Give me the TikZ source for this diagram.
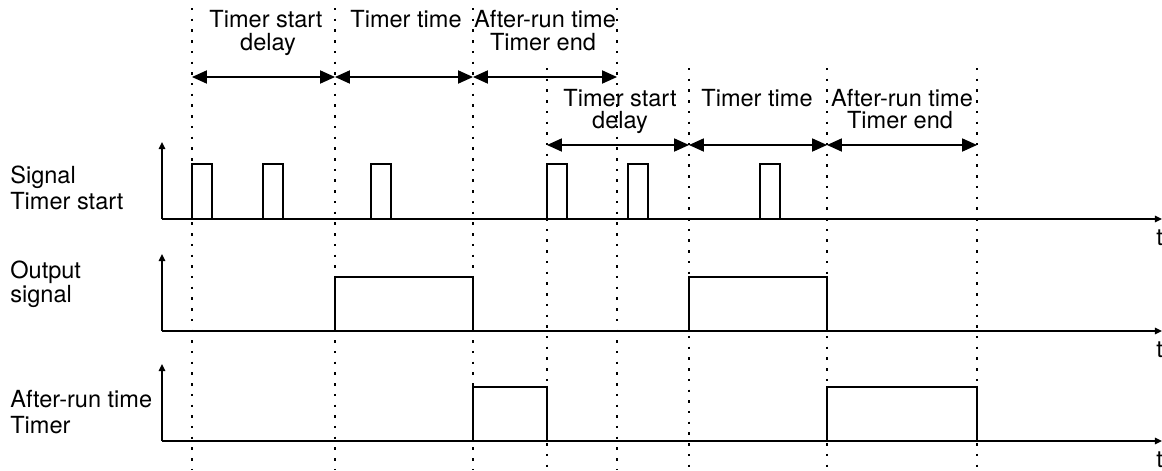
\documentclass[tikz,border=0pt]{standalone}
\usepackage{fontspec}
\setmainfont{TeX Gyre Heros}
\usetikzlibrary{arrows.meta}

\begin{document}
\begin{tikzpicture}[x=0.02cm, y=-0.02cm,
    sig/.style={line width=1.2pt, line join=miter},
    axis/.style={line width=1.4pt, -{Triangle[length=4pt,width=3.6pt]}},
    dotline/.style={line width=1.5pt, dash pattern=on 1.4pt off 4.7pt},
    span/.style={line width=0.7pt, {Triangle[length=8.5pt,width=7.5pt]}-{Triangle[length=8.5pt,width=7.5pt]}},
    lbl/.style={anchor=base, inner sep=0pt, font=\fontsize{13.4}{15}\selectfont}]
  \useasboundingbox (0,0) rectangle (1162,470);
  % time marks
  \foreach \x in {192,335,473,617}
    \draw[dotline] (\x,8) -- (\x,470);
  \foreach \x in {547,689,827,977}
    \draw[dotline] (\x,68) -- (\x,470);
  % axes
  \foreach \y/\n in {219/1,331/2,441/3} {
    \draw[axis] (162,\y) -- (162,\y-77);
    \draw[axis] (162,\y) -- (1162,\y);
    \node[lbl, anchor=base west] (t\n) at (1156,\y+26) {t};
  }
  % signals
  \foreach \a in {192,263,371,547,628,760}
    \draw[sig] (\a,219) -- (\a,164) -- (\a+20,164) -- (\a+20,219);
  \foreach \a/\b in {335/473,689/827}
    \draw[sig] (\a,331) -- (\a,277) -- (\b,277) -- (\b,331);
  \foreach \a/\b in {473/547,827/977}
    \draw[sig] (\a,441) -- (\a,387) -- (\b,387) -- (\b,441);
  % spans
  \foreach \x [count=\i] in {192,335,473,617}
    \coordinate (p\i) at (\x,77);
  \foreach \x [count=\i] in {547,689,827,977}
    \coordinate (q\i) at (\x,145);
  \draw[span] (p1) -- (p2);
  \draw[span] (p2) -- (p3);
  \draw[span] (p3) -- (p4);
  \draw[span] (q1) -- (q2);
  \draw[span] (q2) -- (q3);
  \draw[span] (q3) -- (q4);
  % span labels
  \node[lbl] (d1a) at (266,28) {Timer start};
  \node[lbl] (d1b) at (268,50) {delay};
  \node[lbl] (w1) at (406,28) {Timer time};
  \node[lbl] (r1a) at (545,28) {After-run time};
  \node[lbl] (r1b) at (543,50) {Timer end};
  \node[lbl] (d2a) at (620,106) {Timer start};
  \node[lbl] (d2b) at (620,128) {delay};
  \node[lbl] (w2) at (757,106) {Timer time};
  \node[lbl] (r2a) at (902,106) {After-run time};
  \node[lbl] (r2b) at (900,128) {Timer end};
  % row labels
  \node[lbl, anchor=base west] (s1a) at (10,183) {Signal};
  \node[lbl, anchor=base west] (s1b) at (10,209) {Timer start};
  \node[lbl, anchor=base west] (s2a) at (10,278) {Output};
  \node[lbl, anchor=base west] (s2b) at (10,302) {signal};
  \node[lbl, anchor=base west] (s3a) at (10,407) {After-run time};
  \node[lbl, anchor=base west] (s3b) at (10,433) {Timer};
\end{tikzpicture}
\end{document}
